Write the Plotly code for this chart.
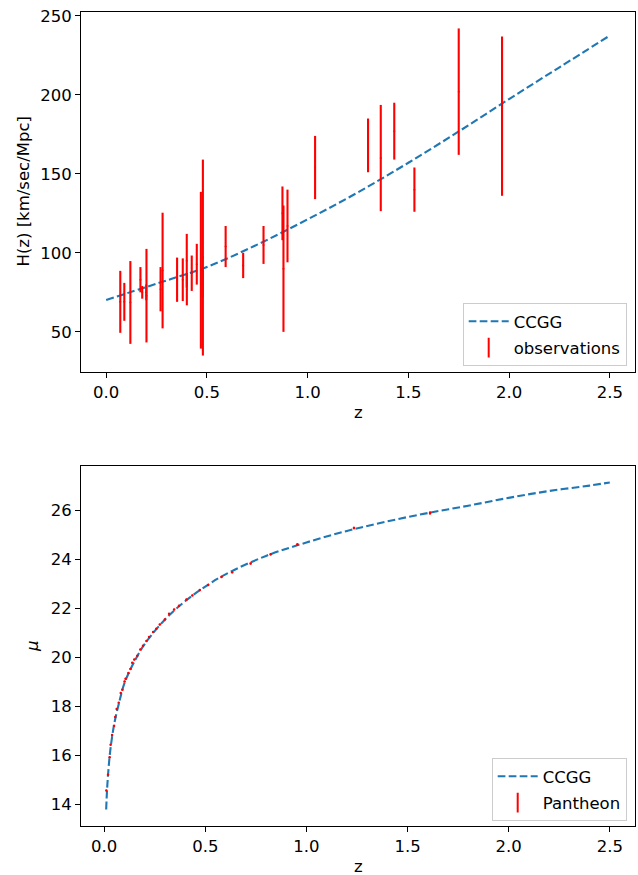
import plotly.graph_objects as go

# ---- Top panel: H(z) cosmic chronometer observations ----
z_obs = [0.07, 0.09, 0.12, 0.17, 0.179, 0.199, 0.2, 0.27, 0.28, 0.352, 0.3802, 0.4, 0.4004,
         0.4247, 0.4497, 0.47, 0.4783, 0.48, 0.593, 0.68, 0.781, 0.875, 0.88, 0.9, 1.037,
         1.3, 1.363, 1.43, 1.53, 1.75, 1.965]
H_obs = [69, 69, 68.6, 83, 75, 75, 72.9, 77, 88.8, 83, 83, 95, 77, 87.1, 92.8, 89, 80.9, 97,
         104, 92, 105, 125, 90, 117, 154, 168, 160, 177, 140, 202, 186.5]
H_err = [19.6, 12, 26.2, 8, 4, 5, 29.6, 14, 36.6, 14, 13.5, 17, 10.2, 11.2, 12.9, 49.6, 9, 62,
         13, 8, 12, 17, 40, 23, 20, 17, 33.6, 18, 14, 40, 50.4]

# CCGG model curve for H(z)
z_model_H = [0.0, 0.25, 0.5, 0.75, 1.0, 1.25, 1.5, 1.75, 2.0, 2.25, 2.5]
H_model = [70.2, 80.5, 91.1, 105.2, 121.2, 138.3, 157.0, 176.8, 197.3, 217.4, 237.5]

# ---- Bottom panel: Pantheon (binned) ----
z_pan = [0.011, 0.019, 0.027, 0.032, 0.039, 0.049, 0.055, 0.062, 0.072, 0.082,
         0.090, 0.101, 0.106, 0.120, 0.130, 0.139, 0.149, 0.164, 0.179, 0.192,
         0.209, 0.222, 0.242, 0.258, 0.275, 0.300, 0.321, 0.346, 0.370, 0.407,
         0.436, 0.473, 0.514, 0.580, 0.633, 0.724, 0.823, 0.955, 1.235, 1.611]
mu_pan = [14.58, 15.22, 15.94, 16.45, 16.84, 17.22, 17.58, 17.90, 18.16, 18.56,
          18.69, 19.03, 19.14, 19.37, 19.54, 19.79, 19.92, 20.08, 20.33, 20.49,
          20.68, 20.84, 21.05, 21.18, 21.35, 21.56, 21.79, 21.96, 22.12, 22.37,
          22.54, 22.76, 22.96, 23.29, 23.48, 23.84, 24.22, 24.62, 25.29, 25.90]
mu_err = [0.03, 0.03, 0.03, 0.03, 0.03, 0.03, 0.03, 0.03, 0.03, 0.03,
          0.03, 0.03, 0.03, 0.03, 0.03, 0.03, 0.03, 0.03, 0.03, 0.03,
          0.03, 0.03, 0.03, 0.03, 0.03, 0.03, 0.03, 0.03, 0.03, 0.03,
          0.03, 0.03, 0.03, 0.04, 0.04, 0.04, 0.05, 0.05, 0.05, 0.07]

# CCGG model curve for mu(z)
z_model_mu = [0.01, 0.014, 0.02, 0.03, 0.05, 0.075, 0.1, 0.15, 0.2, 0.3, 0.4, 0.5, 0.6,
              0.8, 1.0, 1.2, 1.4, 1.6, 1.8, 2.0, 2.2, 2.4, 2.5]
mu_model = [13.80, 14.55, 15.30, 16.20, 17.30, 18.20, 18.95, 19.85, 20.55, 21.55, 22.30,
            22.90, 23.40, 24.15, 24.70, 25.17, 25.56, 25.90, 26.20, 26.52, 26.80, 27.02, 27.15]

W, Hh = 638, 875
FONT = "DejaVu Sans"
FS = 16.5
BLUE = "#1f77b4"
DASH = "7.7px,3.3px"

fig = go.Figure()

# top panel
fig.add_trace(go.Scatter(x=z_model_H, y=H_model, mode="lines", name="CCGG",
                         line=dict(color=BLUE, width=2.1, dash=DASH, shape="spline"),
                         xaxis="x", yaxis="y", legend="legend", legendgroup="a"))
fig.add_trace(go.Scatter(x=z_obs, y=H_obs, mode="markers", name="observations",
                         marker=dict(color="red", size=2),
                         error_y=dict(type="data", array=H_err, color="red", thickness=2.1, width=0),
                         xaxis="x", yaxis="y", showlegend=False))
fig.add_trace(go.Scatter(x=[None], y=[None], mode="markers", name="observations",
                         marker=dict(color="red", symbol="line-ns-open", size=14,
                                     line=dict(color="red", width=2)),
                         xaxis="x", yaxis="y", legend="legend", legendgroup="b"))

# bottom panel
fig.add_trace(go.Scatter(x=z_model_mu, y=mu_model, mode="lines", name="CCGG",
                         line=dict(color=BLUE, width=2.1, dash=DASH, shape="spline"),
                         xaxis="x2", yaxis="y2", legend="legend2", legendgroup="c"))
fig.add_trace(go.Scatter(x=z_pan, y=mu_pan, mode="markers", name="Pantheon",
                         marker=dict(color="red", size=2.5),
                         error_y=dict(type="data", array=mu_err, color="red", thickness=1.5, width=0),
                         xaxis="x2", yaxis="y2", showlegend=False))
fig.add_trace(go.Scatter(x=[None], y=[None], mode="markers", name="Pantheon",
                         marker=dict(color="red", symbol="line-ns-open", size=14,
                                     line=dict(color="red", width=2)),
                         xaxis="x2", yaxis="y2", legend="legend2", legendgroup="d"))

xdom = [81 / W, 635 / W]
axis_common = dict(showline=True, linecolor="black", linewidth=1.1, mirror=True,
                   ticks="outside", ticklen=5, tickwidth=1.1, tickcolor="black",
                   showgrid=False, zeroline=False, automargin=False,
                   tickfont=dict(family=FONT, size=FS, color="black"))

legend_common = dict(xanchor="right", yanchor="bottom",
                     bgcolor="rgba(255,255,255,0.8)", bordercolor="#cccccc", borderwidth=1,
                     font=dict(family=FONT, size=FS, color="black"), traceorder="grouped",
                     itemsizing="trace", tracegroupgap=2, itemwidth=40)

fig.update_layout(
    width=W, height=Hh,
    margin=dict(l=0, r=0, t=0, b=0),
    paper_bgcolor="white", plot_bgcolor="white",
    font=dict(family=FONT, size=FS, color="black"),
    xaxis=dict(domain=xdom, anchor="y", range=[-0.125, 2.625],
               tickvals=[0, 0.5, 1.0, 1.5, 2.0, 2.5], ticktext=["0.0", "0.5", "1.0", "1.5", "2.0", "2.5"],
               **axis_common),
    yaxis=dict(domain=[1 - 372 / Hh, 1 - 12 / Hh], anchor="x", range=[24.6, 252.4],
               tickvals=[50, 100, 150, 200, 250], **axis_common),
    xaxis2=dict(domain=xdom, anchor="y2", range=[-0.1145, 2.6245],
                tickvals=[0, 0.5, 1.0, 1.5, 2.0, 2.5], ticktext=["0.0", "0.5", "1.0", "1.5", "2.0", "2.5"],
                **axis_common),
    yaxis2=dict(domain=[1 - 826 / Hh, 1 - 466 / Hh], anchor="x2", range=[13.13, 27.82],
                tickvals=[14, 16, 18, 20, 22, 24, 26], **axis_common),
    legend=dict(x=626.7 / W, y=1 - 366 / Hh, **legend_common),
    legend2=dict(x=626.7 / W, y=1 - 821 / Hh, **legend_common),
    annotations=[
        dict(text="H(z) [km/sec/Mpc]", x=22.5 / W, y=1 - 192 / Hh, xref="paper", yref="paper",
             textangle=-90, showarrow=False, xanchor="center", yanchor="middle",
             font=dict(family=FONT, size=FS, color="black")),
        dict(text="z", x=358 / W, y=1 - 412 / Hh, xref="paper", yref="paper",
             showarrow=False, xanchor="center", yanchor="middle",
             font=dict(family=FONT, size=FS, color="black")),
        dict(text="<i>μ</i>", x=32 / W, y=1 - 646 / Hh, xref="paper", yref="paper",
             textangle=-90, showarrow=False, xanchor="center", yanchor="middle",
             font=dict(family=FONT, size=FS, color="black")),
        dict(text="z", x=358 / W, y=1 - 866 / Hh, xref="paper", yref="paper",
             showarrow=False, xanchor="center", yanchor="middle",
             font=dict(family=FONT, size=FS, color="black")),
    ],
)

fig.write_html("out.html", config={"displayModeBar": False},
               post_script="document.body.style.margin='0';document.body.style.overflow='hidden';")
